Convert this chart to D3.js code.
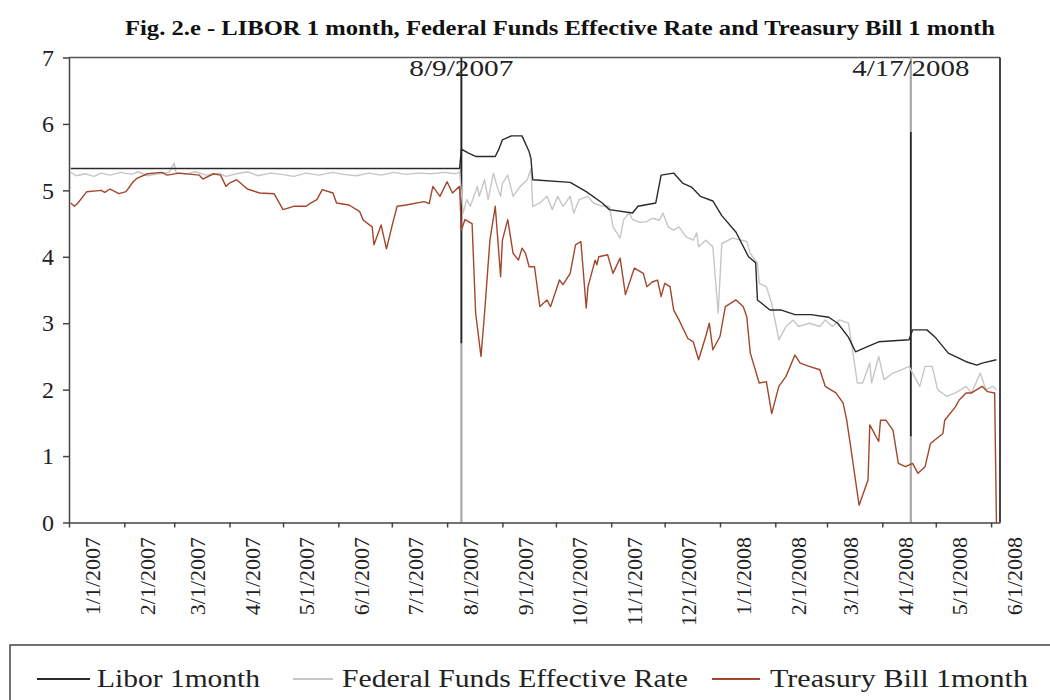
<!DOCTYPE html>
<html lang="en">
<head>
<meta charset="UTF-8">
<title>Fig. 2.e - LIBOR, Fed Funds, T-Bill</title>
<script src="https://d3js.org/d3.v7.min.js"></script>
<style>
    body { margin: 0; background: #fff; }
    svg text { font-family: "Liberation Serif", "Times New Roman", serif; fill: #222; }
</style>
</head>
<body>
<div id="content"></div>
<script>
    // month ticks on the date axis
    var monthTicks = ["2007-01-01", "2007-02-01", "2007-03-01", "2007-04-01", "2007-05-01", "2007-06-01",
        "2007-07-01", "2007-08-01", "2007-09-01", "2007-10-01", "2007-11-01", "2007-12-01",
        "2008-01-01", "2008-02-01", "2008-03-01", "2008-04-01", "2008-05-01", "2008-06-01"];
    var yTicks = [0, 1, 2, 3, 4, 5, 6, 7];

    // Libor 1 month
    var libor = [
        ["2007-01-02", 5.33], ["2007-02-15", 5.33], ["2007-04-02", 5.33], ["2007-05-15", 5.33],
        ["2007-06-29", 5.33], ["2007-08-08", 5.33],
        ["2007-08-09", 5.62], ["2007-08-13", 5.56], ["2007-08-17", 5.51], ["2007-08-28", 5.51],
        ["2007-08-30", 5.62], ["2007-09-01", 5.76], ["2007-09-06", 5.82], ["2007-09-12", 5.82],
        ["2007-09-13", 5.76], ["2007-09-16", 5.58], ["2007-09-17", 5.48], ["2007-09-18", 5.16],
        ["2007-10-09", 5.12], ["2007-10-18", 4.98], ["2007-10-27", 4.81], ["2007-10-31", 4.71],
        ["2007-11-13", 4.66], ["2007-11-16", 4.76], ["2007-11-26", 4.81], ["2007-11-29", 5.23],
        ["2007-12-06", 5.26], ["2007-12-11", 5.11], ["2007-12-16", 5.05], ["2007-12-21", 4.91],
        ["2007-12-28", 4.84], ["2008-01-02", 4.62], ["2008-01-10", 4.37], ["2008-01-17", 4.00],
        ["2008-01-21", 3.91], ["2008-01-22", 3.35], ["2008-01-29", 3.20], ["2008-02-04", 3.20],
        ["2008-02-12", 3.13], ["2008-02-21", 3.13], ["2008-03-02", 3.09], ["2008-03-07", 3.00],
        ["2008-03-13", 2.79], ["2008-03-17", 2.57], ["2008-03-23", 2.64], ["2008-03-30", 2.72],
        ["2008-04-16", 2.75], ["2008-04-18", 2.90], ["2008-04-26", 2.90], ["2008-05-01", 2.78],
        ["2008-05-08", 2.55], ["2008-05-18", 2.42], ["2008-05-24", 2.37], ["2008-05-27", 2.40],
        ["2008-06-04", 2.45]
    ];

    // Federal Funds Effective Rate
    var fedFunds = [
        ["2007-01-02", 5.27], ["2007-01-05", 5.22], ["2007-01-10", 5.25], ["2007-01-15", 5.21],
        ["2007-01-19", 5.26], ["2007-01-24", 5.23], ["2007-01-30", 5.27], ["2007-02-05", 5.24],
        ["2007-02-09", 5.28], ["2007-02-14", 5.22], ["2007-02-20", 5.25], ["2007-02-26", 5.27],
        ["2007-03-01", 5.41], ["2007-03-02", 5.27], ["2007-03-07", 5.24], ["2007-03-13", 5.28],
        ["2007-03-19", 5.23], ["2007-03-26", 5.26], ["2007-03-30", 5.21], ["2007-04-05", 5.25],
        ["2007-04-11", 5.28], ["2007-04-17", 5.22], ["2007-04-24", 5.26], ["2007-04-30", 5.24],
        ["2007-05-07", 5.21], ["2007-05-14", 5.26], ["2007-05-21", 5.23], ["2007-05-29", 5.27],
        ["2007-06-04", 5.24], ["2007-06-11", 5.22], ["2007-06-18", 5.26], ["2007-06-25", 5.23],
        ["2007-07-02", 5.27], ["2007-07-09", 5.24], ["2007-07-16", 5.26], ["2007-07-23", 5.25],
        ["2007-07-30", 5.27], ["2007-08-06", 5.25], ["2007-08-08", 5.28],
        ["2007-08-10", 4.66], ["2007-08-12", 4.86], ["2007-08-14", 4.76], ["2007-08-18", 5.06],
        ["2007-08-19", 4.91], ["2007-08-22", 5.16], ["2007-08-24", 4.86], ["2007-08-27", 5.26],
        ["2007-08-29", 5.06], ["2007-08-31", 4.91], ["2007-09-01", 5.10], ["2007-09-04", 5.23],
        ["2007-09-07", 4.91], ["2007-09-11", 5.06], ["2007-09-15", 5.16], ["2007-09-17", 5.33],
        ["2007-09-18", 4.76], ["2007-09-22", 4.81], ["2007-09-26", 4.91], ["2007-09-29", 4.71],
        ["2007-10-02", 4.91], ["2007-10-05", 4.76], ["2007-10-09", 4.91], ["2007-10-11", 4.66],
        ["2007-10-14", 4.86], ["2007-10-19", 4.91], ["2007-10-22", 4.81], ["2007-10-27", 4.76],
        ["2007-10-31", 4.76], ["2007-11-02", 4.45], ["2007-11-06", 4.28], ["2007-11-08", 4.56],
        ["2007-11-11", 4.66], ["2007-11-13", 4.56], ["2007-11-17", 4.52], ["2007-11-21", 4.53],
        ["2007-11-24", 4.58], ["2007-11-28", 4.55], ["2007-11-30", 4.66], ["2007-12-03", 4.45],
        ["2007-12-06", 4.40], ["2007-12-09", 4.45], ["2007-12-13", 4.30], ["2007-12-17", 4.25],
        ["2007-12-19", 4.36], ["2007-12-20", 4.15], ["2007-12-24", 4.25], ["2007-12-28", 4.15],
        ["2007-12-31", 3.15], ["2008-01-02", 4.20], ["2008-01-08", 4.28], ["2008-01-16", 4.23],
        ["2008-01-18", 4.05], ["2008-01-22", 3.90], ["2008-01-23", 3.60], ["2008-01-27", 3.55],
        ["2008-01-30", 3.30], ["2008-02-03", 2.75], ["2008-02-07", 2.95], ["2008-02-11", 3.05],
        ["2008-02-14", 2.95], ["2008-02-20", 3.00], ["2008-02-26", 2.95], ["2008-02-29", 3.05],
        ["2008-03-04", 2.95], ["2008-03-08", 3.05], ["2008-03-13", 3.00], ["2008-03-15", 2.65],
        ["2008-03-18", 2.10], ["2008-03-21", 2.10], ["2008-03-25", 2.40], ["2008-03-26", 2.10],
        ["2008-03-30", 2.50], ["2008-04-02", 2.15], ["2008-04-07", 2.25], ["2008-04-12", 2.30],
        ["2008-04-16", 2.35], ["2008-04-22", 2.05], ["2008-04-25", 2.35], ["2008-04-29", 2.35],
        ["2008-05-02", 2.00], ["2008-05-07", 1.90], ["2008-05-12", 1.95], ["2008-05-18", 2.05],
        ["2008-05-21", 1.95], ["2008-05-26", 2.25], ["2008-05-29", 2.00], ["2008-06-02", 2.05],
        ["2008-06-04", 2.00]
    ];

    // Treasury Bill 1 month
    var tbill = [
        ["2007-01-02", 4.81], ["2007-01-04", 4.76], ["2007-01-06", 4.81], ["2007-01-11", 4.98],
        ["2007-01-19", 5.00], ["2007-01-21", 4.97], ["2007-01-24", 5.02], ["2007-01-29", 4.95],
        ["2007-02-02", 4.98], ["2007-02-06", 5.13], ["2007-02-08", 5.18], ["2007-02-14", 5.25],
        ["2007-02-22", 5.27], ["2007-02-25", 5.23], ["2007-03-04", 5.26], ["2007-03-15", 5.23],
        ["2007-03-17", 5.17], ["2007-03-23", 5.25], ["2007-03-27", 5.23], ["2007-03-30", 5.06],
        ["2007-04-01", 5.11], ["2007-04-05", 5.16], ["2007-04-11", 5.02], ["2007-04-18", 4.96],
        ["2007-04-26", 4.95], ["2007-05-01", 4.71], ["2007-05-07", 4.76], ["2007-05-14", 4.76],
        ["2007-05-16", 4.80], ["2007-05-20", 4.86], ["2007-05-23", 5.01], ["2007-05-29", 4.96],
        ["2007-05-31", 4.81], ["2007-06-07", 4.78], ["2007-06-13", 4.68], ["2007-06-15", 4.55],
        ["2007-06-20", 4.45], ["2007-06-21", 4.18], ["2007-06-25", 4.48], ["2007-06-28", 4.12],
        ["2007-07-02", 4.56], ["2007-07-04", 4.76], ["2007-07-09", 4.78], ["2007-07-19", 4.83],
        ["2007-07-22", 4.80], ["2007-07-24", 5.06], ["2007-07-28", 4.91], ["2007-08-01", 5.13],
        ["2007-08-04", 4.96], ["2007-08-08", 5.06], ["2007-08-09", 4.40], ["2007-08-11", 4.56],
        ["2007-08-15", 4.50], ["2007-08-17", 3.15], ["2007-08-20", 2.50], ["2007-08-22", 3.15],
        ["2007-08-25", 4.25], ["2007-08-28", 4.76], ["2007-08-31", 3.70], ["2007-09-01", 4.25],
        ["2007-09-04", 4.56], ["2007-09-07", 4.05], ["2007-09-10", 3.95], ["2007-09-12", 4.13],
        ["2007-09-14", 4.05], ["2007-09-16", 3.85], ["2007-09-19", 3.85], ["2007-09-22", 3.25],
        ["2007-09-26", 3.35], ["2007-09-28", 3.25], ["2007-10-03", 3.65], ["2007-10-05", 3.58],
        ["2007-10-09", 3.75], ["2007-10-12", 4.18], ["2007-10-15", 4.23], ["2007-10-18", 3.23],
        ["2007-10-19", 3.55], ["2007-10-23", 3.95], ["2007-10-24", 3.88], ["2007-10-25", 4.00],
        ["2007-10-30", 4.03], ["2007-11-02", 3.75], ["2007-11-06", 3.98], ["2007-11-09", 3.43],
        ["2007-11-14", 3.83], ["2007-11-19", 3.75], ["2007-11-21", 3.55], ["2007-11-24", 3.62],
        ["2007-11-27", 3.65], ["2007-11-29", 3.40], ["2007-12-01", 3.60], ["2007-12-04", 3.55],
        ["2007-12-06", 3.20], ["2007-12-09", 3.05], ["2007-12-14", 2.77], ["2007-12-17", 2.72],
        ["2007-12-20", 2.45], ["2007-12-24", 2.80], ["2007-12-26", 3.00], ["2007-12-28", 2.60],
        ["2008-01-01", 2.80], ["2008-01-04", 3.25], ["2008-01-10", 3.35], ["2008-01-14", 3.25],
        ["2008-01-16", 3.10], ["2008-01-18", 2.55], ["2008-01-23", 2.10], ["2008-01-27", 2.12],
        ["2008-01-30", 1.64], ["2008-02-03", 2.05], ["2008-02-07", 2.20], ["2008-02-12", 2.52],
        ["2008-02-15", 2.40], ["2008-02-20", 2.35], ["2008-02-26", 2.30], ["2008-02-29", 2.05],
        ["2008-03-06", 1.95], ["2008-03-10", 1.80], ["2008-03-12", 1.55], ["2008-03-14", 1.19],
        ["2008-03-19", 0.26], ["2008-03-24", 0.64], ["2008-03-25", 1.47], ["2008-03-30", 1.22],
        ["2008-03-31", 1.54], ["2008-04-03", 1.54], ["2008-04-07", 1.39], ["2008-04-10", 0.89],
        ["2008-04-14", 0.84], ["2008-04-18", 0.89], ["2008-04-21", 0.74], ["2008-04-25", 0.84],
        ["2008-04-28", 1.19], ["2008-05-05", 1.34], ["2008-05-06", 1.54], ["2008-05-12", 1.74],
        ["2008-05-14", 1.84], ["2008-05-18", 1.95], ["2008-05-21", 1.95], ["2008-05-27", 2.05],
        ["2008-05-30", 1.97], ["2008-06-03", 1.95], ["2008-06-04", 0.00]
    ];

    // event markers: dark part of the line runs between darkFrom and darkTo
    var events = [
        { date: "2007-08-09", label: "8/9/2007", darkFrom: 2.7, darkTo: 7 },
        { date: "2008-04-17", label: "4/17/2008", darkFrom: 1.3, darkTo: 5.88 }
    ];

    var seriesNames = ["Libor 1month", "Federal Funds Effective Rate", "Treasury Bill 1month"];
    var seriesColors = ["#2a2a2a", "#c6c6c6", "#a3462b"];

    var parse = d3.timeParse("%Y-%m-%d");
    var fmt = d3.timeFormat("%-m/%-d/%Y");

    var svg = d3.select("#content")
        .append("svg")
        .attr("width", 1050)
        .attr("height", 700);

    var x = d3.scaleTime()
        .domain([parse("2007-01-01"), parse("2008-06-06")])
        .range([69, 1000]);

    var y = d3.scaleLinear()
        .domain([0, 7])
        .range([522.5, 57.5]);

    // title
    svg.append("text")
        .attr("x", 560)
        .attr("y", 35)
        .attr("text-anchor", "middle")
        .attr("textLength", 870)
        .attr("lengthAdjust", "spacingAndGlyphs")
        .style("font-size", "22px")
        .style("font-weight", "bold")
        .style("fill", "#111")
        .text("Fig. 2.e - LIBOR 1 month, Federal Funds Effective Rate and Treasury Bill 1 month");

    // frame top and right
    svg.append("line")
        .attr("x1", x.range()[0]).attr("x2", x.range()[1])
        .attr("y1", y(7)).attr("y2", y(7))
        .style("stroke", "#555").style("stroke-width", 1.5);
    svg.append("line")
        .attr("x1", x.range()[1]).attr("x2", x.range()[1])
        .attr("y1", y(7)).attr("y2", y(0))
        .style("stroke", "#444").style("stroke-width", 2);

    // event lines (grey full height, dark part on top)
    var ev = svg.append("g").selectAll("g")
        .data(events)
        .enter()
        .append("g");
    ev.append("line")
        .attr("x1", function (d) { return x(parse(d.date)); })
        .attr("x2", function (d) { return x(parse(d.date)); })
        .attr("y1", y(7)).attr("y2", y(0))
        .style("stroke", "#a8a8a8").style("stroke-width", 2.2);
    ev.append("line")
        .attr("x1", function (d) { return x(parse(d.date)); })
        .attr("x2", function (d) { return x(parse(d.date)); })
        .attr("y1", function (d) { return y(d.darkTo); })
        .attr("y2", function (d) { return y(d.darkFrom); })
        .style("stroke", "#222").style("stroke-width", 1.6);
    ev.append("text")
        .attr("x", function (d) { return x(parse(d.date)); })
        .attr("y", 76)
        .attr("text-anchor", "middle")
        .attr("textLength", function (d) { return d.label.length * 13; })
        .attr("lengthAdjust", "spacingAndGlyphs")
        .style("font-size", "24px")
        .text(function (d) { return d.label; });

    // series lines
    var line = d3.line()
        .x(function (d) { return x(parse(d[0])); })
        .y(function (d) { return y(d[1]); });

    [fedFunds, libor, tbill].forEach(function (s, i) {
        var col = [seriesColors[1], seriesColors[0], seriesColors[2]][i];
        svg.append("path")
            .datum(s)
            .attr("d", line)
            .style("fill", "none")
            .style("stroke", col)
            .style("stroke-width", 1.4)
            .style("stroke-linejoin", "round");
    });

    // left axis
    var yAxis = svg.append("g")
        .attr("transform", "translate(69,0)")
        .call(d3.axisLeft(y).tickValues(yTicks).tickFormat(d3.format("d"))
            .tickSize(6).tickSizeOuter(0).tickPadding(9));
    yAxis.selectAll("path, line").style("stroke", "#444").style("stroke-width", 1.5);
    yAxis.selectAll("text")
        .style("font-family", "'Liberation Serif', serif")
        .style("font-size", "24px")
        .style("fill", "#222");

    // bottom axis with month ticks
    var xAxis = svg.append("g")
        .attr("transform", "translate(0," + y(0) + ")")
        .call(d3.axisBottom(x)
            .tickValues(monthTicks.map(parse))
            .tickSize(5)
            .tickSizeOuter(0)
            .tickFormat(""));
    xAxis.selectAll("path, line").style("stroke", "#444").style("stroke-width", 1.5);

    svg.append("g").selectAll("text")
        .data(monthTicks.map(parse))
        .enter()
        .append("text")
        .attr("transform", function (d) {
            return "translate(" + x(d3.timeDay.offset(d, 13)) + ",537) rotate(-90)";
        })
        .attr("dy", "0.35em")
        .attr("text-anchor", "end")
        .style("font-size", "22px")
        .text(fmt);

    // legend
    var lg = svg.append("g");
    lg.append("rect")
        .attr("x", 10).attr("y", 645)
        .attr("width", 1100).attr("height", 100)
        .style("fill", "none").style("stroke", "#444").style("stroke-width", 1.5);

    var legendLineX = [37, 293, 712];
    var legendLineW = [53, 40, 48];
    var legendTextX = [97, 342, 770];
    var legendTextW = [163, 346, 258];

    seriesNames.forEach(function (name, i) {
        lg.append("line")
            .attr("x1", legendLineX[i]).attr("x2", legendLineX[i] + legendLineW[i])
            .attr("y1", 679).attr("y2", 679)
            .style("stroke", seriesColors[i]).style("stroke-width", 2);
        lg.append("text")
            .attr("x", legendTextX[i])
            .attr("y", 687)
            .attr("textLength", legendTextW[i])
            .attr("lengthAdjust", "spacingAndGlyphs")
            .style("font-size", "25px")
            .text(name);
    });
</script>
</body>
</html>
